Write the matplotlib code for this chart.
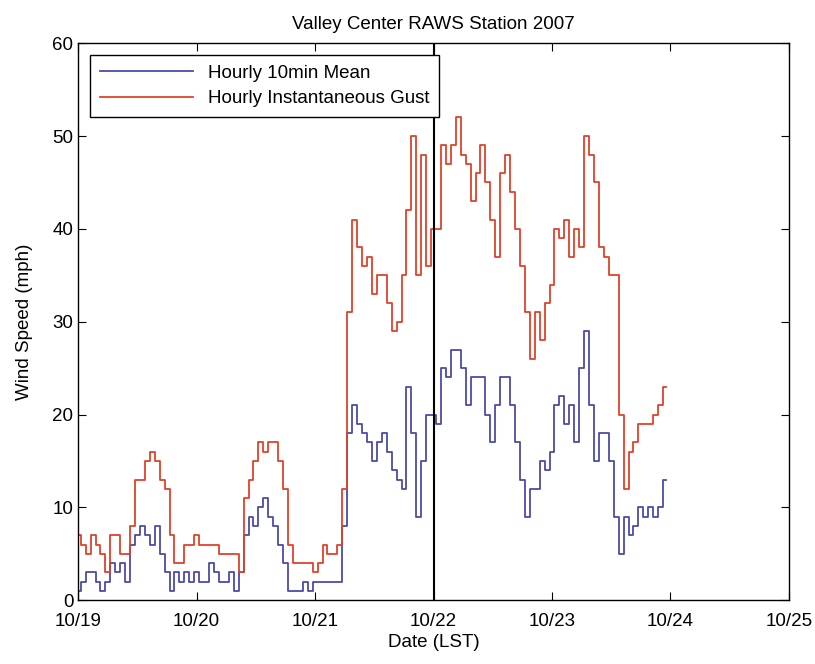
import matplotlib
matplotlib.use("Agg")
import matplotlib.pyplot as plt
import numpy as np

plt.rcParams['font.family'] = ['Liberation Sans', 'DejaVu Sans']

# hourly values per day (mph)
mean_1019 = [1, 2, 3, 3, 2, 1, 2, 4, 3, 4, 2, 6, 7, 8, 7, 6, 8, 5, 3, 1, 3, 2, 3, 2]
mean_1020 = [3, 2, 2, 4, 3, 2, 2, 3, 1, 3, 7, 9, 8, 10, 11, 9, 8, 6, 4, 1, 1, 1, 2, 1]
mean_1021 = [2, 2, 2, 2, 2, 2, 8, 18, 21, 19, 18, 17, 15, 17, 18, 16, 14, 13, 12, 23, 18, 9, 15, 20]
mean_1022 = [20, 19, 25, 24, 27, 27, 25, 21, 24, 24, 24, 20, 17, 21, 24, 24, 21, 17, 13, 9, 12, 12, 15, 14]
mean_1023 = [16, 21, 22, 19, 21, 17, 25, 29, 21, 15, 18, 18, 15, 9, 5, 9, 7, 8, 10, 9, 10, 9, 10, 13]

gust_1019 = [7, 6, 5, 7, 6, 5, 3, 7, 7, 5, 5, 8, 13, 13, 15, 16, 15, 13, 12, 7, 4, 4, 6, 6]
gust_1020 = [7, 6, 6, 6, 6, 5, 5, 5, 5, 3, 11, 13, 15, 17, 16, 17, 17, 15, 12, 6, 4, 4, 4, 4]
gust_1021 = [3, 4, 6, 5, 5, 6, 12, 31, 41, 38, 36, 37, 33, 35, 35, 32, 29, 30, 35, 42, 50, 35, 48, 36]
gust_1022 = [40, 40, 49, 47, 49, 52, 48, 47, 43, 46, 49, 45, 41, 37, 46, 48, 44, 40, 36, 31, 26, 31, 28, 32]
gust_1023 = [34, 40, 39, 41, 37, 40, 38, 50, 48, 45, 38, 37, 35, 35, 20, 12, 16, 17, 19, 19, 19, 20, 21, 23]

date_labels = ['10/19', '10/20', '10/21', '10/22', '10/23', '10/24', '10/25']

mean_speed = np.array(mean_1019 + mean_1020 + mean_1021 + mean_1022 + mean_1023)
gust_speed = np.array(gust_1019 + gust_1020 + gust_1021 + gust_1022 + gust_1023)
days = np.arange(len(mean_speed)) / 24.0

fig = plt.figure(figsize=(8.15, 6.64), dpi=100)
ax = fig.add_axes([0.096, 0.096, 0.872, 0.839])

ax.plot(days, mean_speed, color='#4b4ba8', lw=1.3, drawstyle='steps-mid',
        label='Hourly 10min Mean')
ax.plot(days, gust_speed, color='#e2412a', lw=1.3, drawstyle='steps-mid',
        label='Hourly Instantaneous Gust')
ax.axvline(3, color='black', lw=1.5)

ax.set_xlim(0, 6)
ax.set_ylim(0, 60)
ax.set_xticks(range(7))
ax.set_xticklabels(date_labels)
ax.set_yticks(range(0, 61, 10))
ax.tick_params(direction='in', top=True, right=True, length=6, labelsize=13.5)
ax.tick_params(axis='x', pad=9)
for s in ax.spines.values():
    s.set_linewidth(1.0)

ax.set_title('Valley Center RAWS Station 2007', fontsize=13.5, pad=10)
ax.set_xlabel('Date (LST)', fontsize=13.5, labelpad=3)
ax.set_ylabel('Wind Speed (mph)', fontsize=13.5, labelpad=14)

leg = ax.legend(loc='upper left', bbox_to_anchor=(0.017, 0.978), borderaxespad=0,
                fontsize=13.5, fancybox=False, edgecolor='black', framealpha=1,
                handlelength=5.0, labelspacing=0.45, borderpad=0.5)
leg.get_frame().set_linewidth(1.0)

fig.savefig('out.png', dpi=100)
